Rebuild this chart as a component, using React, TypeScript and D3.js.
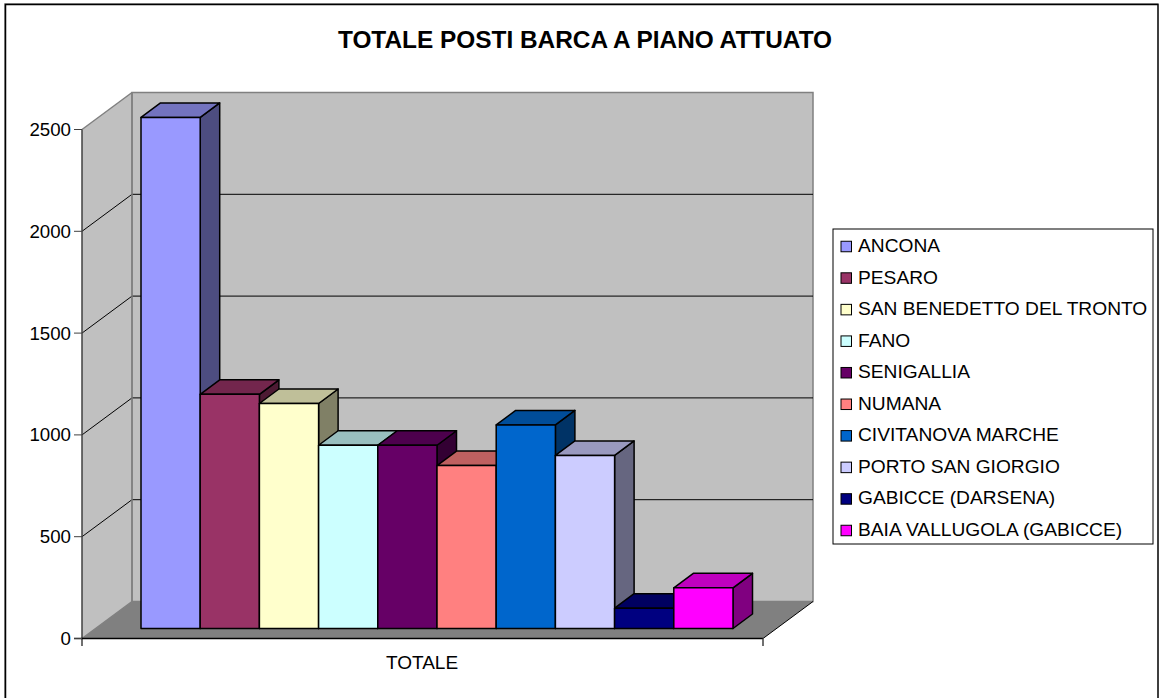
import React from "react";
import * as d3 from "d3";

const chartTitle = "TOTALE POSTI BARCA A PIANO ATTUATO";
const categoryLabel = "TOTALE";
const names = ["ANCONA","PESARO","SAN BENEDETTO DEL TRONTO","FANO","SENIGALLIA","NUMANA","CIVITANOVA MARCHE","PORTO SAN GIORGIO","GABICCE (DARSENA)","BAIA VALLUGOLA (GABICCE)"];
const values = [2510,1150,1105,900,900,800,1000,850,100,200];
const colors = ["#9999FF","#993366","#FFFFCC","#CCFFFF","#660066","#FF8080","#0066CC","#CCCCFF","#000080","#FF00FF"];
const ticks = [0,500,1000,1500,2000,2500];

const font = "'Liberation Sans', Arial, sans-serif";
const shade = (c: string, k: number) => { const r = d3.rgb(c); return d3.rgb(r.r*k, r.g*k, r.b*k).formatHex(); };
const pts = (p: number[][]) => p.map(a => a.join(",")).join(" ");

export default function App() {
  const y = d3.scaleLinear().domain([0,2500]).range([638.5,129.5]);
  const wallX = 82, wallR = 763, dx = 50, dy = -37;
  const barBase = 628.5 - 638.5;
  const x = d3.scaleBand().domain(names).range([141,733]).paddingInner(0).paddingOuter(0);
  const bdx = 19.5, bdy = -14.5;
  const legendY = d3.scalePoint().domain(names).range([246.5,530.5]);
  return (
    <svg width={1160} height={698} style={{position:"absolute",left:0,top:0,display:"block"}} fontFamily={font}>
      <rect x={0} y={0} width={1160} height={698} fill="#fff"/>
      <polyline points={pts([[4.5,698],[4.5,3.5],[1158.5,3.5]])} fill="none" stroke="#9a9a9a" strokeWidth={1}/>
      <polyline points={pts([[5.5,698],[5.5,4.5],[1158,4.5],[1158,698]])} fill="none" stroke="#000" strokeWidth={1.5}/>
      <text x={585} y={47.5} textAnchor="middle" fontSize={24.4} fontWeight="bold">{chartTitle}</text>
      {/* walls */}
      <polygon points={pts([[wallX,y(0)],[wallX+dx,y(0)+dy],[wallX+dx,y(2500)+dy],[wallX,y(2500)]])} fill="#C0C0C0"/>
      <rect x={wallX+dx} y={y(2500)+dy} width={wallR-wallX} height={y(0)-y(2500)} fill="#C0C0C0" stroke="#808080" strokeWidth={1.5}/>
      <polygon points={pts([[wallX,y(0)],[wallX+dx,y(0)+dy],[wallR+dx,y(0)+dy],[wallR,y(0)]])} fill="#808080"/>
      {ticks.slice(1,-1).map(t => (
        <polyline key={t} points={pts([[wallX,y(t)],[wallX+dx,y(t)+dy],[wallR+dx,y(t)+dy]])} fill="none" stroke="#000" strokeWidth={1}/>
      ))}
      <line x1={wallX} y1={y(2500)} x2={wallX+dx} y2={y(2500)+dy} stroke="#808080" strokeWidth={1.5}/>
      <line x1={wallX} y1={y(0)} x2={wallX+dx} y2={y(0)+dy} stroke="#808080" strokeWidth={1.5}/>
      <line x1={wallX+dx} y1={y(2500)+dy} x2={wallX+dx} y2={y(0)+dy} stroke="#808080" strokeWidth={1.5}/>
      <line x1={wallR} y1={y(0)} x2={wallR+dx} y2={y(0)+dy} stroke="#000" strokeWidth={1}/>
      {/* axes */}
      <line x1={wallX} y1={y(2500)} x2={wallX} y2={646} stroke="#404040" strokeWidth={1.5}/>
      <line x1={74} y1={y(0)} x2={wallR} y2={y(0)} stroke="#000" strokeWidth={1.5}/>
      <line x1={wallR} y1={y(0)} x2={wallR} y2={646} stroke="#404040" strokeWidth={1.5}/>
      {ticks.map(t => (
        <g key={t}>
          <line x1={74} x2={wallX} y1={y(t)} y2={y(t)} stroke="#404040" strokeWidth={1}/>
          <text x={71} y={y(t)+6.5} textAnchor="end" fontSize={18.7}>{t}</text>
        </g>
      ))}
      <text x={422} y={668.5} textAnchor="middle" fontSize={19}>{categoryLabel}</text>
      {/* bars */}
      {names.map((n,i) => {
        const l = x(n)!, r = l + x.bandwidth();
        const b = y(0)+barBase, t = y(values[i])+barBase;
        return (
          <g key={n} stroke="#000" strokeWidth={1.5} strokeLinejoin="round">
            <polygon points={pts([[r,t],[r+bdx,t+bdy],[r+bdx,b+bdy],[r,b]])} fill={shade(colors[i],0.5)}/>
            <polygon points={pts([[l,t],[l+bdx,t+bdy],[r+bdx,t+bdy],[r,t]])} fill={shade(colors[i],0.75)}/>
            <rect x={l} y={t} width={x.bandwidth()} height={b-t} fill={colors[i]}/>
          </g>
        );
      })}
      {/* legend */}
      <rect x={833} y={229} width={320} height={315} fill="#fff" stroke="#000" strokeWidth={1}/>
      {names.map((n,i) => (
        <g key={n}>
          <rect x={841} y={legendY(n)!-5.25} width={10.5} height={10.5} fill={colors[i]} stroke="#000" strokeWidth={1}/>
          <text x={858} y={legendY(n)!+5.5} fontSize={19.2}>{n}</text>
        </g>
      ))}
    </svg>
  );
}
